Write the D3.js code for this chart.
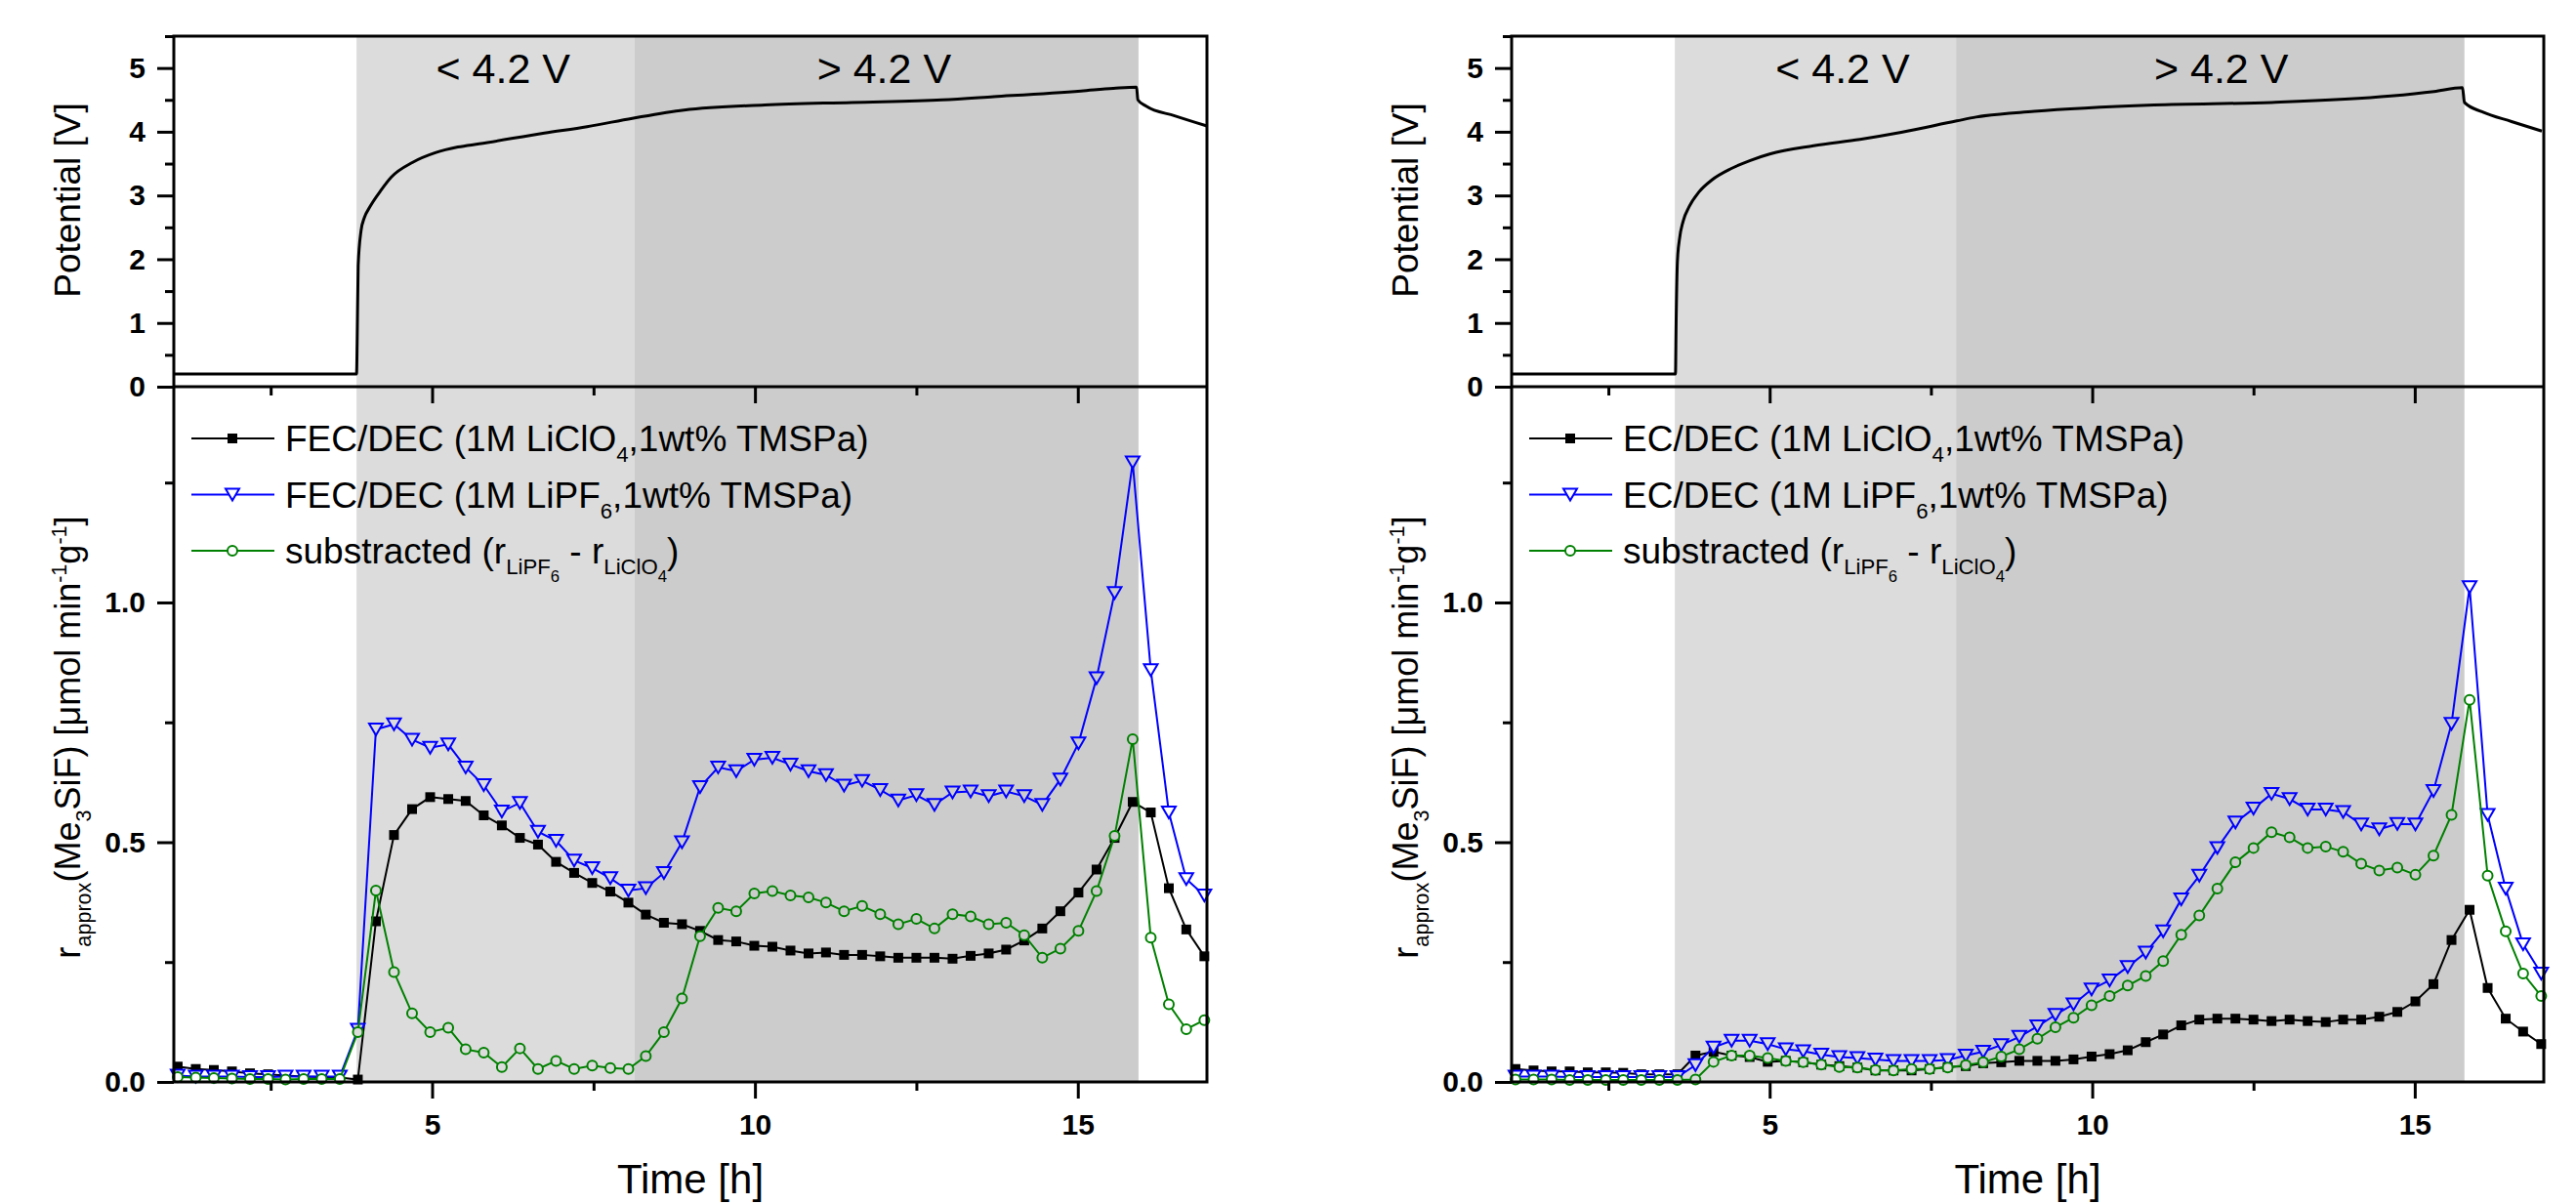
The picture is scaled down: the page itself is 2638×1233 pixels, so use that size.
<!DOCTYPE html>
<html lang="en">
<head>
<meta charset="UTF-8">
<script src="https://d3js.org/d3.v7.min.js"></script>
<style>
  body { margin: 0; background: #fff; }
  svg { display: block; font-family: "Liberation Sans", Arial, sans-serif; }
  .tick text { font-size: 30px; font-weight: bold; fill: #000; }
  .tick line { stroke: #000; stroke-width: 3px; }
  .frame { fill: none; stroke: #000; stroke-width: 3px; }
  .axis-label { fill: #000; }
</style>
</head>
<body>
<svg id="chart" width="2638" height="1233"></svg>
<script>
// sampling times [h], same for every rate series
const timeH = [1.06, 1.34, 1.62, 1.90, 2.18, 2.46, 2.73, 3.01, 3.29, 3.57,
  3.85, 4.13, 4.41, 4.69, 4.97, 5.25, 5.52, 5.80, 6.08, 6.36,
  6.64, 6.92, 7.20, 7.48, 7.76, 8.04, 8.31, 8.59, 8.87, 9.15,
  9.43, 9.71, 9.99, 10.27, 10.55, 10.83, 11.10, 11.38, 11.66, 11.94,
  12.22, 12.50, 12.78, 13.06, 13.34, 13.62, 13.89, 14.17, 14.45, 14.73,
  15.01, 15.29, 15.57, 15.85, 16.13, 16.41, 16.68, 16.96];

// FEC/DEC panel
const fecClO4 = [0.032, 0.027, 0.025, 0.022, 0.018, 0.016, 0.013, 0.011, 0.010, 0.009,
  0.005, 0.335, 0.515, 0.569, 0.594, 0.590, 0.586, 0.556, 0.535, 0.509,
  0.495, 0.459, 0.436, 0.415, 0.397, 0.374, 0.349, 0.332, 0.329, 0.315,
  0.296, 0.293, 0.284, 0.282, 0.274, 0.268, 0.270, 0.265, 0.265, 0.262,
  0.259, 0.259, 0.259, 0.257, 0.263, 0.268, 0.276, 0.295, 0.320, 0.356,
  0.395, 0.443, 0.509, 0.584, 0.562, 0.404, 0.318, 0.262];
const fecPF6 = [0.013, 0.011, 0.011, 0.011, 0.010, 0.010, 0.011, 0.011, 0.011, 0.011,
  0.109, 0.735, 0.746, 0.714, 0.697, 0.704, 0.656, 0.619, 0.564, 0.582,
  0.522, 0.503, 0.462, 0.446, 0.425, 0.399, 0.404, 0.436, 0.500, 0.615,
  0.656, 0.648, 0.672, 0.676, 0.662, 0.648, 0.640, 0.618, 0.628, 0.609,
  0.587, 0.598, 0.578, 0.604, 0.606, 0.596, 0.606, 0.596, 0.578, 0.631,
  0.706, 0.842, 1.020, 1.292, 0.859, 0.562, 0.423, 0.389];
const fecSub = [0.010, 0.009, 0.008, 0.007, 0.006, 0.006, 0.005, 0.006, 0.006, 0.006,
  0.104, 0.399, 0.229, 0.143, 0.104, 0.113, 0.068, 0.061, 0.031, 0.070,
  0.027, 0.044, 0.027, 0.034, 0.029, 0.027, 0.054, 0.104, 0.174, 0.304,
  0.363, 0.356, 0.393, 0.398, 0.389, 0.385, 0.374, 0.356, 0.367, 0.350,
  0.329, 0.340, 0.320, 0.350, 0.345, 0.329, 0.332, 0.306, 0.259, 0.278,
  0.315, 0.398, 0.513, 0.715, 0.301, 0.162, 0.110, 0.129];

// EC/DEC panel
const ecClO4 = [0.027, 0.024, 0.022, 0.022, 0.020, 0.020, 0.019, 0.016, 0.016, 0.016,
  0.055, 0.063, 0.055, 0.052, 0.042, 0.044, 0.041, 0.036, 0.033, 0.030,
  0.024, 0.024, 0.024, 0.027, 0.031, 0.033, 0.039, 0.041, 0.044, 0.044,
  0.044, 0.047, 0.053, 0.058, 0.066, 0.083, 0.099, 0.118, 0.130, 0.132,
  0.132, 0.130, 0.127, 0.130, 0.127, 0.125, 0.130, 0.130, 0.136, 0.146,
  0.168, 0.204, 0.296, 0.359, 0.196, 0.132, 0.105, 0.079];
const ecPF6 = [0.011, 0.011, 0.011, 0.010, 0.010, 0.010, 0.010, 0.010, 0.010, 0.010,
  0.035, 0.072, 0.086, 0.086, 0.079, 0.068, 0.064, 0.057, 0.052, 0.050,
  0.047, 0.044, 0.044, 0.044, 0.046, 0.055, 0.063, 0.077, 0.094, 0.116,
  0.140, 0.162, 0.193, 0.212, 0.240, 0.270, 0.314, 0.381, 0.430, 0.488,
  0.541, 0.570, 0.601, 0.590, 0.568, 0.568, 0.563, 0.537, 0.527, 0.538,
  0.537, 0.607, 0.747, 1.032, 0.557, 0.403, 0.287, 0.226];
const ecSub = [0.005, 0.005, 0.005, 0.004, 0.004, 0.004, 0.004, 0.004, 0.004, 0.004,
  0.005, 0.042, 0.055, 0.055, 0.050, 0.044, 0.041, 0.036, 0.031, 0.030,
  0.025, 0.024, 0.027, 0.027, 0.030, 0.035, 0.041, 0.053, 0.068, 0.090,
  0.114, 0.134, 0.160, 0.179, 0.201, 0.221, 0.252, 0.307, 0.347, 0.403,
  0.458, 0.488, 0.521, 0.510, 0.488, 0.491, 0.480, 0.455, 0.441, 0.447,
  0.432, 0.472, 0.557, 0.797, 0.430, 0.314, 0.226, 0.179];

// cell potential [h, V]
const potentialFEC = [[1.0, 0.2], [3.83, 0.2], [3.84, 0.75], [3.855, 1.9], [3.9, 2.45],
  [3.95, 2.65], [4.03, 2.81], [4.2, 3.07], [4.37, 3.29], [4.7, 3.52], [5.05, 3.67],
  [5.4, 3.76], [5.73, 3.81], [6.74, 3.98], [7.4, 4.08], [8.1, 4.21], [8.9, 4.34],
  [10.15, 4.42], [11.5, 4.46], [12.9, 4.5], [13.7, 4.55], [15.05, 4.64], [15.55, 4.68],
  [15.91, 4.7], [15.93, 4.5], [16.06, 4.4], [16.5, 4.25], [17.0, 4.09]];
const potentialEC = [[1.0, 0.2], [3.54, 0.2], [3.55, 1.0], [3.57, 1.97], [3.6, 2.3],
  [3.66, 2.6], [3.75, 2.82], [3.9, 3.05], [4.1, 3.24], [4.4, 3.42], [4.7, 3.55],
  [5.0, 3.65], [5.68, 3.78], [6.4, 3.88], [7.04, 3.99], [7.9, 4.17], [8.2, 4.23],
  [9.1, 4.32], [10.96, 4.42], [12.78, 4.46], [14.63, 4.56], [15.3, 4.63], [15.74, 4.69],
  [15.77, 4.46], [16.05, 4.31], [16.5, 4.16], [16.97, 4.01]];

// shaded charging regions [h]
const regionsFEC = [
  {from: 3.83, to: 8.13, label: "< 4.2 V", at: 6.1, tone: "light"},
  {from: 8.13, to: 15.94, label: "> 4.2 V", at: 12.0, tone: "dark"}
];
const regionsEC = [
  {from: 3.53, to: 7.89, label: "< 4.2 V", at: 6.13, tone: "light"},
  {from: 7.89, to: 15.77, label: "> 4.2 V", at: 12.0, tone: "dark"}
];

// legend text, [string, level] level 1 = subscript, 2 = sub-subscript
const legendFEC = [
  [["FEC/DEC (1M LiClO", 0], ["4", 1], [",1wt% TMSPa)", 0]],
  [["FEC/DEC (1M LiPF", 0], ["6", 1], [",1wt% TMSPa)", 0]],
  [["substracted (r", 0], ["LiPF", 1], ["6", 2], [" - r", 0], ["LiClO", 1], ["4", 2], [")", 0]]
];
const legendEC = [
  [["EC/DEC (1M LiClO", 0], ["4", 1], [",1wt% TMSPa)", 0]],
  [["EC/DEC (1M LiPF", 0], ["6", 1], [",1wt% TMSPa)", 0]],
  [["substracted (r", 0], ["LiPF", 1], ["6", 2], [" - r", 0], ["LiClO", 1], ["4", 2], [")", 0]]
];

const xMajor = [5, 10, 15];
const xMinor = [2.5, 7.5, 12.5];
const potMajor = [0, 1, 2, 3, 4, 5];
const potMinor = [0.5, 1.5, 2.5, 3.5, 4.5, 5.5];
const rateMajor = [0, 0.5, 1.0];
const rateMinor = [0.25, 0.75, 1.25];

const rateLabel = [["r", 0], ["approx", 1], ["(Me", 0], ["3", 1], ["SiF) [\u03bcmol min", 0],
  ["-1", -1], ["g", 0], ["-1", -1], ["]", 0]];

const svg = d3.select("#chart");
const plotTop = 37, plotMid = 396, plotBottom = 1108;
const shade = {light: "#dcdcdc", dark: "#cccccc"};

// append tspans with sub/superscripts
function richText(text, parts, size) {
    const shift = {"-1": -0.4 * size, 0: 0, 1: 0.3 * size, 2: 0.5 * size};
    const fs = {"-1": 0.6 * size, 0: size, 1: 0.6 * size, 2: 0.45 * size};
    let level = 0;
    parts.forEach(([str, lv]) => {
        text.append("tspan")
            .attr("font-size", fs[lv])
            .attr("dy", shift[lv] - shift[level])
            .text(str);
        level = lv;
    });
}

function drawMarkers(g, s, data, fx, fy, fbg) {
    const sel = g.selectAll(null).data(data).enter();
    if (s.marker === "square") {
        sel.append("rect")
            .attr("x", d => fx(d) - 5).attr("y", d => fy(d) - 5)
            .attr("width", 10).attr("height", 10)
            .attr("fill", s.color);
    } else if (s.marker === "triangle") {
        sel.append("path")
            .attr("transform", d => `translate(${fx(d)},${fy(d)})`)
            .attr("d", "M-7,-6L7,-6L0,6Z")
            .attr("fill", d => fbg(d))
            .attr("stroke", s.color)
            .attr("stroke-width", 2);
    } else {
        sel.append("circle")
            .attr("cx", fx).attr("cy", fy).attr("r", 5)
            .attr("fill", d => fbg(d))
            .attr("stroke", s.color)
            .attr("stroke-width", 2);
    }
}

function drawPanel(p) {
    const g = svg.append("g");
    const x = d3.scaleLinear().domain([1, 17]).range([p.left, p.right]);
    const yPot = d3.scaleLinear().domain([0, 5.5]).range([plotMid, plotTop]);
    const yRate = d3.scaleLinear().domain([0, 1.45]).range([plotBottom, plotMid]);

    const bgAt = t => {
        const r = p.regions.find(r => t >= r.from && t <= r.to);
        return r ? shade[r.tone] : "#fff";
    };

    // shading
    g.selectAll(".region")
        .data(p.regions)
        .enter()
        .append("rect")
        .attr("x", d => x(d.from))
        .attr("width", d => x(d.to) - x(d.from))
        .attr("y", plotTop)
        .attr("height", plotBottom - plotTop)
        .attr("fill", d => shade[d.tone]);

    g.selectAll(".region-label")
        .data(p.regions)
        .enter()
        .append("text")
        .attr("x", d => x(d.at))
        .attr("y", 85)
        .attr("text-anchor", "middle")
        .attr("font-size", 43)
        .text(d => d.label);

    // potential
    g.append("path")
        .datum(p.potential)
        .attr("fill", "none")
        .attr("stroke", "#000")
        .attr("stroke-width", 3)
        .attr("d", d3.line()
            .x(d => x(d[0]))
            .y(d => yPot(d[1]))
            .curve(d3.curveMonotoneX));

    // rate series
    const line = d3.line()
        .x((d, i) => x(timeH[i]))
        .y(d => yRate(d));

    const series = [
        {values: p.clo4, color: "#000000", marker: "square"},
        {values: p.pf6, color: "#0000ff", marker: "triangle"},
        {values: p.sub, color: "#008000", marker: "circle"}
    ];

    series.forEach(s => {
        g.append("path")
            .datum(s.values)
            .attr("fill", "none")
            .attr("stroke", s.color)
            .attr("stroke-width", 2)
            .attr("d", line);
        drawMarkers(g, s, s.values.map((v, i) => ({t: timeH[i], v})),
            d => x(d.t), d => yRate(d.v), d => bgAt(d.t));
    });

    // legend
    const lx = p.left;
    p.legend.forEach((parts, i) => {
        const ly = 449 + i * 57.5;
        const s = series[i];
        g.append("line")
            .attr("x1", lx + 18).attr("x2", lx + 103)
            .attr("y1", ly).attr("y2", ly)
            .attr("stroke", s.color)
            .attr("stroke-width", 2);
        drawMarkers(g, s, [{}], () => lx + 60, () => ly, () => "#fff");
        const t = g.append("text")
            .attr("x", lx + 114)
            .attr("y", ly + 13)
            .attr("fill", "#000");
        richText(t, parts, 37);
    });

    // axes
    const noDomain = a => a.call(s => s.select(".domain").remove());
    g.append("g").attr("transform", `translate(${p.left},0)`)
        .call(d3.axisLeft(yPot).tickValues(potMajor).tickSize(17).tickPadding(12).tickFormat(d3.format("d")))
        .call(noDomain);
    g.append("g").attr("transform", `translate(${p.left},0)`)
        .call(d3.axisLeft(yPot).tickValues(potMinor).tickSize(9).tickFormat(""))
        .call(noDomain);
    g.append("g").attr("transform", `translate(${p.left},0)`)
        .call(d3.axisLeft(yRate).tickValues(rateMajor).tickSize(17).tickPadding(12).tickFormat(d3.format(".1f")))
        .call(noDomain);
    g.append("g").attr("transform", `translate(${p.left},0)`)
        .call(d3.axisLeft(yRate).tickValues(rateMinor).tickSize(9).tickFormat(""))
        .call(noDomain);
    [plotMid, plotBottom].forEach(yy => {
        g.append("g").attr("transform", `translate(0,${yy})`)
            .call(d3.axisBottom(x).tickValues(xMajor).tickSize(17).tickPadding(16)
                .tickFormat(yy === plotBottom ? d3.format("d") : ""))
            .call(noDomain);
        g.append("g").attr("transform", `translate(0,${yy})`)
            .call(d3.axisBottom(x).tickValues(xMinor).tickSize(9).tickFormat(""))
            .call(noDomain);
    });

    g.append("path")
        .attr("class", "frame")
        .attr("d", `M${p.left},${plotTop}H${p.right}V${plotBottom}H${p.left}Z M${p.left},${plotMid}H${p.right}`);

    // axis titles
    g.append("text")
        .attr("class", "axis-label")
        .attr("font-size", 37)
        .attr("text-anchor", "middle")
        .attr("transform", `translate(${p.left - 96},205) rotate(-90)`)
        .text("Potential [V]");

    const rl = g.append("text")
        .attr("class", "axis-label")
        .attr("text-anchor", "middle")
        .attr("transform", `translate(${p.left - 96},755) rotate(-90)`);
    richText(rl, rateLabel, 36);

    g.append("text")
        .attr("class", "axis-label")
        .attr("font-size", 42)
        .attr("text-anchor", "middle")
        .attr("x", (p.left + p.right) / 2)
        .attr("y", 1222)
        .text("Time [h]");
}

drawPanel({left: 178, right: 1236, clo4: fecClO4, pf6: fecPF6, sub: fecSub,
    potential: potentialFEC, regions: regionsFEC, legend: legendFEC});
drawPanel({left: 1548, right: 2605, clo4: ecClO4, pf6: ecPF6, sub: ecSub,
    potential: potentialEC, regions: regionsEC, legend: legendEC});
</script>
</body>
</html>
